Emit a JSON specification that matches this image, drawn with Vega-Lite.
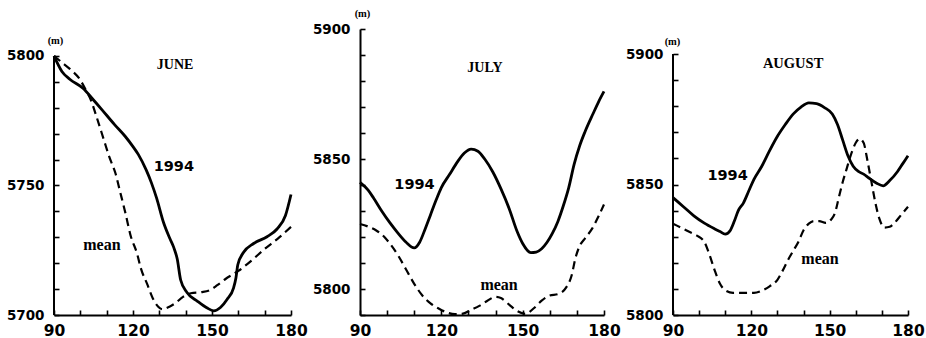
{
  "$schema": "https://vega.github.io/schema/vega-lite/v6.json",
  "background": "white",
  "padding": {"left": 6, "top": 8, "right": 5, "bottom": 2},
  "bounds": "flush",
  "spacing": 69,
  "config": {
    "view": {"stroke": null},
    "axis": {"grid": false, "domainColor": "black", "domainWidth": 2, "tickColor": "black", "tickWidth": 1.6, "labelColor": "black", "labelFont": "DejaVu Sans", "labelFontWeight": "bold", "titleColor": "black", "labelOverlap": false, "labelFlush": false, "labelBound": false},
    "axisX": {"labelFontSize": 15.5},
    "axisY": {"labelFontSize": 13.5, "titleFont": "Liberation Serif", "titleFontSize": 10.5, "titleFontWeight": "bold", "titleAngle": 0, "titleAlign": "center", "titleBaseline": "middle"}
  },
  "datasets": {
    "june": [
      {"lon": 90, "z": 5800, "series": "1994"}, {"lon": 93, "z": 5794, "series": "1994"}, {"lon": 96, "z": 5791, "series": "1994"}, {"lon": 101, "z": 5787.5, "series": "1994"}, {"lon": 105, "z": 5783, "series": "1994"}, {"lon": 108, "z": 5779.5, "series": "1994"}, {"lon": 113, "z": 5773.5, "series": "1994"}, {"lon": 117, "z": 5769, "series": "1994"}, {"lon": 120, "z": 5765, "series": "1994"}, {"lon": 122, "z": 5762, "series": "1994"}, {"lon": 125, "z": 5756, "series": "1994"}, {"lon": 127, "z": 5751, "series": "1994"}, {"lon": 129, "z": 5745, "series": "1994"}, {"lon": 131.5, "z": 5736, "series": "1994"}, {"lon": 134, "z": 5729.5, "series": "1994"}, {"lon": 135.5, "z": 5726, "series": "1994"}, {"lon": 136.8, "z": 5721.6, "series": "1994"}, {"lon": 138.1, "z": 5713.5, "series": "1994"}, {"lon": 140.5, "z": 5708.7, "series": "1994"}, {"lon": 144.5, "z": 5705.3, "series": "1994"}, {"lon": 148, "z": 5702.8, "series": "1994"}, {"lon": 150.7, "z": 5701.6, "series": "1994"}, {"lon": 153.2, "z": 5702.9, "series": "1994"}, {"lon": 155.7, "z": 5706, "series": "1994"}, {"lon": 158.2, "z": 5710.5, "series": "1994"}, {"lon": 159.1, "z": 5714.4, "series": "1994"}, {"lon": 159.8, "z": 5719.4, "series": "1994"}, {"lon": 162, "z": 5724.2, "series": "1994"}, {"lon": 165.8, "z": 5727.6, "series": "1994"}, {"lon": 170.9, "z": 5730.2, "series": "1994"}, {"lon": 174.7, "z": 5733.2, "series": "1994"}, {"lon": 177.9, "z": 5738.4, "series": "1994"}, {"lon": 180, "z": 5746.5, "series": "1994"},
      {"lon": 90, "z": 5800, "series": "mean"}, {"lon": 93, "z": 5797.5, "series": "mean"}, {"lon": 96, "z": 5795, "series": "mean"}, {"lon": 100, "z": 5790.7, "series": "mean"}, {"lon": 102, "z": 5787, "series": "mean"}, {"lon": 104, "z": 5783, "series": "mean"}, {"lon": 106, "z": 5777, "series": "mean"}, {"lon": 109, "z": 5767.4, "series": "mean"}, {"lon": 111, "z": 5761, "series": "mean"}, {"lon": 113.4, "z": 5754.5, "series": "mean"}, {"lon": 115, "z": 5748, "series": "mean"}, {"lon": 117.2, "z": 5739, "series": "mean"}, {"lon": 119, "z": 5731, "series": "mean"}, {"lon": 121.6, "z": 5723.5, "series": "mean"}, {"lon": 123, "z": 5718, "series": "mean"}, {"lon": 125.4, "z": 5711.9, "series": "mean"}, {"lon": 127.5, "z": 5706.5, "series": "mean"}, {"lon": 129.5, "z": 5703.3, "series": "mean"}, {"lon": 131.2, "z": 5702.2, "series": "mean"}, {"lon": 133, "z": 5702.8, "series": "mean"}, {"lon": 136, "z": 5704.5, "series": "mean"}, {"lon": 139, "z": 5707, "series": "mean"}, {"lon": 142, "z": 5708.4, "series": "mean"}, {"lon": 146, "z": 5708.8, "series": "mean"}, {"lon": 149, "z": 5709.5, "series": "mean"}, {"lon": 152, "z": 5711.5, "series": "mean"}, {"lon": 155, "z": 5713.8, "series": "mean"}, {"lon": 160, "z": 5717, "series": "mean"}, {"lon": 165, "z": 5721, "series": "mean"}, {"lon": 170, "z": 5725.5, "series": "mean"}, {"lon": 175, "z": 5729.5, "series": "mean"}, {"lon": 180, "z": 5734, "series": "mean"}
    ],
    "july": [
      {"lon": 90, "z": 5841, "series": "1994"}, {"lon": 93, "z": 5838, "series": "1994"}, {"lon": 95, "z": 5835, "series": "1994"}, {"lon": 98, "z": 5830, "series": "1994"}, {"lon": 101, "z": 5825.5, "series": "1994"}, {"lon": 104, "z": 5821.5, "series": "1994"}, {"lon": 107, "z": 5818, "series": "1994"}, {"lon": 110, "z": 5815.8, "series": "1994"}, {"lon": 112, "z": 5818, "series": "1994"}, {"lon": 114, "z": 5823, "series": "1994"}, {"lon": 116, "z": 5828.5, "series": "1994"}, {"lon": 118, "z": 5834, "series": "1994"}, {"lon": 120, "z": 5839, "series": "1994"}, {"lon": 123, "z": 5844, "series": "1994"}, {"lon": 126, "z": 5849, "series": "1994"}, {"lon": 128.5, "z": 5852.3, "series": "1994"}, {"lon": 131, "z": 5853.8, "series": "1994"}, {"lon": 133.5, "z": 5853, "series": "1994"}, {"lon": 136, "z": 5850, "series": "1994"}, {"lon": 139, "z": 5845, "series": "1994"}, {"lon": 142, "z": 5838.5, "series": "1994"}, {"lon": 145, "z": 5831, "series": "1994"}, {"lon": 148, "z": 5822, "series": "1994"}, {"lon": 150, "z": 5817.5, "series": "1994"}, {"lon": 153, "z": 5814, "series": "1994"}, {"lon": 155, "z": 5814.2, "series": "1994"}, {"lon": 157, "z": 5815.5, "series": "1994"}, {"lon": 159, "z": 5818, "series": "1994"}, {"lon": 161, "z": 5821.5, "series": "1994"}, {"lon": 163, "z": 5826, "series": "1994"}, {"lon": 165, "z": 5832, "series": "1994"}, {"lon": 167, "z": 5839, "series": "1994"}, {"lon": 169, "z": 5848, "series": "1994"}, {"lon": 171, "z": 5855, "series": "1994"}, {"lon": 173, "z": 5860.5, "series": "1994"}, {"lon": 176, "z": 5867.5, "series": "1994"}, {"lon": 178, "z": 5872, "series": "1994"}, {"lon": 180, "z": 5876, "series": "1994"},
      {"lon": 90, "z": 5825, "series": "mean"}, {"lon": 93, "z": 5824, "series": "mean"}, {"lon": 96, "z": 5822.5, "series": "mean"}, {"lon": 99, "z": 5820, "series": "mean"}, {"lon": 101, "z": 5817.5, "series": "mean"}, {"lon": 104, "z": 5813, "series": "mean"}, {"lon": 107, "z": 5807.5, "series": "mean"}, {"lon": 110, "z": 5802, "series": "mean"}, {"lon": 113, "z": 5797.5, "series": "mean"}, {"lon": 116, "z": 5794.5, "series": "mean"}, {"lon": 119, "z": 5792.5, "series": "mean"}, {"lon": 122, "z": 5791, "series": "mean"}, {"lon": 125, "z": 5790.3, "series": "mean"}, {"lon": 128, "z": 5790.5, "series": "mean"}, {"lon": 131, "z": 5792, "series": "mean"}, {"lon": 134, "z": 5793.5, "series": "mean"}, {"lon": 137, "z": 5795.5, "series": "mean"}, {"lon": 140, "z": 5797, "series": "mean"}, {"lon": 142, "z": 5796.5, "series": "mean"}, {"lon": 145, "z": 5794, "series": "mean"}, {"lon": 148, "z": 5791.5, "series": "mean"}, {"lon": 151, "z": 5790.4, "series": "mean"}, {"lon": 154, "z": 5792.5, "series": "mean"}, {"lon": 157, "z": 5795.5, "series": "mean"}, {"lon": 160, "z": 5797.5, "series": "mean"}, {"lon": 163, "z": 5798, "series": "mean"}, {"lon": 166, "z": 5800.5, "series": "mean"}, {"lon": 168, "z": 5805, "series": "mean"}, {"lon": 169.5, "z": 5812, "series": "mean"}, {"lon": 171, "z": 5816.5, "series": "mean"}, {"lon": 173, "z": 5819.5, "series": "mean"}, {"lon": 175.5, "z": 5823, "series": "mean"}, {"lon": 178, "z": 5828, "series": "mean"}, {"lon": 180, "z": 5832.5, "series": "mean"}
    ],
    "august": [
      {"lon": 90, "z": 5845, "series": "1994"}, {"lon": 94, "z": 5841.5, "series": "1994"}, {"lon": 98, "z": 5838, "series": "1994"}, {"lon": 102, "z": 5835.2, "series": "1994"}, {"lon": 106, "z": 5833, "series": "1994"}, {"lon": 108, "z": 5832, "series": "1994"}, {"lon": 110, "z": 5831, "series": "1994"}, {"lon": 112, "z": 5832.5, "series": "1994"}, {"lon": 113.5, "z": 5836, "series": "1994"}, {"lon": 115, "z": 5840, "series": "1994"}, {"lon": 117, "z": 5843, "series": "1994"}, {"lon": 119, "z": 5847.5, "series": "1994"}, {"lon": 121, "z": 5852, "series": "1994"}, {"lon": 124, "z": 5857, "series": "1994"}, {"lon": 127, "z": 5863, "series": "1994"}, {"lon": 130, "z": 5868.5, "series": "1994"}, {"lon": 133, "z": 5873, "series": "1994"}, {"lon": 136, "z": 5877, "series": "1994"}, {"lon": 139, "z": 5879.7, "series": "1994"}, {"lon": 142, "z": 5881.3, "series": "1994"}, {"lon": 145, "z": 5881, "series": "1994"}, {"lon": 148, "z": 5879.5, "series": "1994"}, {"lon": 151, "z": 5877, "series": "1994"}, {"lon": 153, "z": 5873, "series": "1994"}, {"lon": 155, "z": 5867, "series": "1994"}, {"lon": 157, "z": 5861, "series": "1994"}, {"lon": 159, "z": 5857, "series": "1994"}, {"lon": 161, "z": 5855, "series": "1994"}, {"lon": 163, "z": 5854, "series": "1994"}, {"lon": 165, "z": 5852.5, "series": "1994"}, {"lon": 168, "z": 5850.5, "series": "1994"}, {"lon": 170.5, "z": 5849.5, "series": "1994"}, {"lon": 173, "z": 5851.5, "series": "1994"}, {"lon": 176, "z": 5855, "series": "1994"}, {"lon": 178, "z": 5858, "series": "1994"}, {"lon": 180, "z": 5861, "series": "1994"},
      {"lon": 90, "z": 5835, "series": "mean"}, {"lon": 93, "z": 5833.5, "series": "mean"}, {"lon": 96, "z": 5832, "series": "mean"}, {"lon": 99, "z": 5830.5, "series": "mean"}, {"lon": 102, "z": 5828, "series": "mean"}, {"lon": 104, "z": 5823, "series": "mean"}, {"lon": 106, "z": 5817, "series": "mean"}, {"lon": 108, "z": 5812, "series": "mean"}, {"lon": 110, "z": 5809.5, "series": "mean"}, {"lon": 113, "z": 5808.5, "series": "mean"}, {"lon": 117, "z": 5808.5, "series": "mean"}, {"lon": 121, "z": 5808.5, "series": "mean"}, {"lon": 124, "z": 5809.3, "series": "mean"}, {"lon": 127, "z": 5811, "series": "mean"}, {"lon": 130, "z": 5813.5, "series": "mean"}, {"lon": 132, "z": 5817, "series": "mean"}, {"lon": 134, "z": 5821, "series": "mean"}, {"lon": 136, "z": 5824.5, "series": "mean"}, {"lon": 138, "z": 5828, "series": "mean"}, {"lon": 140, "z": 5832.5, "series": "mean"}, {"lon": 142, "z": 5835, "series": "mean"}, {"lon": 144, "z": 5836, "series": "mean"}, {"lon": 146, "z": 5836, "series": "mean"}, {"lon": 148.5, "z": 5835.3, "series": "mean"}, {"lon": 150.5, "z": 5836.5, "series": "mean"}, {"lon": 152, "z": 5839, "series": "mean"}, {"lon": 153.5, "z": 5845, "series": "mean"}, {"lon": 155, "z": 5851, "series": "mean"}, {"lon": 156.5, "z": 5856, "series": "mean"}, {"lon": 158, "z": 5861, "series": "mean"}, {"lon": 160, "z": 5866, "series": "mean"}, {"lon": 161.5, "z": 5867.5, "series": "mean"}, {"lon": 163, "z": 5866, "series": "mean"}, {"lon": 164.5, "z": 5859, "series": "mean"}, {"lon": 166, "z": 5851, "series": "mean"}, {"lon": 167.5, "z": 5843, "series": "mean"}, {"lon": 169, "z": 5837, "series": "mean"}, {"lon": 171, "z": 5833.5, "series": "mean"}, {"lon": 173, "z": 5833.8, "series": "mean"}, {"lon": 175, "z": 5835.5, "series": "mean"}, {"lon": 177.5, "z": 5838.5, "series": "mean"}, {"lon": 180, "z": 5841.5, "series": "mean"}
    ]
  },
  "hconcat": [
    {
      "width": 237, "height": 286,
      "data": {"name": "june"},
      "resolve": {"axis": {"x": "independent", "y": "independent"}},
      "layer": [
        {"transform": [{"filter": "datum.series === '1994'"}], "mark": {"type": "line", "interpolate": "monotone", "color": "black", "strokeWidth": 2.8},
         "encoding": {
          "x": {"field": "lon", "type": "quantitative", "scale": {"domain": [90, 180], "nice": false, "zero": false}, "axis": {"orient": "bottom", "title": null, "values": [90, 120, 150, 180], "ticks": false, "tickSize": 0, "labelPadding": 8}},
          "y": {"field": "z", "type": "quantitative", "scale": {"domain": [5700, 5810.4], "nice": false, "zero": false}, "axis": {"orient": "left", "title": "(m)", "titleX": 1, "titleY": 11, "domain": false, "format": "d", "values": [5700, 5750, 5800], "ticks": false, "tickSize": 0, "labelPadding": 10}}
         }},
        {"transform": [{"filter": "datum.series === 'mean'"}], "mark": {"type": "line", "interpolate": "monotone", "color": "black", "strokeWidth": 2.2, "strokeDash": [8, 5]},
         "encoding": {
          "x": {"field": "lon", "type": "quantitative", "axis": {"orient": "top", "offset": -286, "title": null, "labels": false, "domain": false, "ticks": true, "tickSize": 5, "values": [90, 100, 110, 120, 130, 140, 150, 160, 170, 180]}},
          "y": {"field": "z", "type": "quantitative", "axis": {"orient": "right", "offset": -237, "title": null, "labels": false, "domain": false, "ticks": true, "tickSize": 5, "values": [5700, 5710, 5720, 5730, 5740, 5750, 5760, 5770, 5780, 5790, 5800]}}
         }},
        {"transform": [{"filter": "datum.series === 'mean' && datum.lon === 90"}], "mark": {"type": "rule", "color": "black", "strokeWidth": 2}, "encoding": {"x": {"datum": 90, "axis": null}, "y": {"datum": 5700, "axis": null}, "y2": {"datum": 5800}}},
        {"transform": [{"filter": "datum.series === 'mean' && datum.lon === 90"}], "mark": {"type": "text", "font": "Liberation Serif", "fontWeight": "bold", "fontSize": 14, "color": "black", "text": "JUNE"}, "encoding": {"x": {"datum": 136, "axis": null}, "y": {"datum": 5796.5, "axis": null}}},
        {"transform": [{"filter": "datum.series === 'mean' && datum.lon === 90"}], "mark": {"type": "text", "font": "DejaVu Sans", "fontWeight": "bold", "fontSize": 14.5, "color": "black", "text": "1994"}, "encoding": {"x": {"datum": 135.5, "axis": null}, "y": {"datum": 5757, "axis": null}}},
        {"transform": [{"filter": "datum.series === 'mean' && datum.lon === 90"}], "mark": {"type": "text", "font": "Liberation Serif", "fontWeight": "bold", "fontSize": 16, "color": "black", "text": "mean"}, "encoding": {"x": {"datum": 108.2, "axis": null}, "y": {"datum": 5727, "axis": null}}}
      ]
    },
    {
      "width": 244, "height": 286,
      "data": {"name": "july"},
      "resolve": {"axis": {"x": "independent", "y": "independent"}},
      "layer": [
        {"transform": [{"filter": "datum.series === '1994'"}], "mark": {"type": "line", "interpolate": "monotone", "color": "black", "strokeWidth": 2.8},
         "encoding": {
          "x": {"field": "lon", "type": "quantitative", "scale": {"domain": [90, 180], "nice": false, "zero": false}, "axis": {"orient": "bottom", "title": null, "values": [90, 120, 150, 180], "ticks": false, "tickSize": 0, "labelPadding": 8}},
          "y": {"field": "z", "type": "quantitative", "scale": {"domain": [5790, 5900], "nice": false, "zero": false}, "axis": {"orient": "left", "title": "(m)", "titleX": 2, "titleY": -15.5, "format": "d", "values": [5800, 5850, 5900], "ticks": false, "tickSize": 0, "labelPadding": 10}}
         }},
        {"transform": [{"filter": "datum.series === 'mean'"}], "mark": {"type": "line", "interpolate": "monotone", "color": "black", "strokeWidth": 2.2, "strokeDash": [8, 5]},
         "encoding": {
          "x": {"field": "lon", "type": "quantitative", "axis": {"orient": "top", "offset": -286, "title": null, "labels": false, "domain": false, "ticks": true, "tickSize": 5, "values": [90, 100, 110, 120, 130, 140, 150, 160, 170, 180]}},
          "y": {"field": "z", "type": "quantitative", "axis": {"orient": "right", "offset": -244, "title": null, "labels": false, "domain": false, "ticks": true, "tickSize": 5, "values": [5790, 5800, 5810, 5820, 5830, 5840, 5850, 5860, 5870, 5880, 5890, 5900]}}
         }},
        {"transform": [{"filter": "datum.series === 'mean' && datum.lon === 90"}], "mark": {"type": "text", "font": "Liberation Serif", "fontWeight": "bold", "fontSize": 14, "color": "black", "text": "JULY"}, "encoding": {"x": {"datum": 136.1, "axis": null}, "y": {"datum": 5885, "axis": null}}},
        {"transform": [{"filter": "datum.series === 'mean' && datum.lon === 90"}], "mark": {"type": "text", "font": "DejaVu Sans", "fontWeight": "bold", "fontSize": 14.5, "color": "black", "text": "1994"}, "encoding": {"x": {"datum": 110.1, "axis": null}, "y": {"datum": 5840, "axis": null}}},
        {"transform": [{"filter": "datum.series === 'mean' && datum.lon === 90"}], "mark": {"type": "text", "font": "Liberation Serif", "fontWeight": "bold", "fontSize": 16, "color": "black", "text": "mean"}, "encoding": {"x": {"datum": 141.3, "axis": null}, "y": {"datum": 5801.5, "axis": null}}}
      ]
    },
    {
      "width": 235, "height": 286,
      "data": {"name": "august"},
      "resolve": {"axis": {"x": "independent", "y": "independent"}},
      "layer": [
        {"transform": [{"filter": "datum.series === '1994'"}], "mark": {"type": "line", "interpolate": "monotone", "color": "black", "strokeWidth": 2.8},
         "encoding": {
          "x": {"field": "lon", "type": "quantitative", "scale": {"domain": [90, 180], "nice": false, "zero": false}, "axis": {"orient": "bottom", "title": null, "values": [90, 120, 150, 180], "ticks": false, "tickSize": 0, "labelPadding": 8}},
          "y": {"field": "z", "type": "quantitative", "scale": {"domain": [5800, 5909.6], "nice": false, "zero": false}, "axis": {"orient": "left", "title": "(m)", "titleX": -1, "titleY": 12, "domain": false, "format": "d", "values": [5800, 5850, 5900], "ticks": false, "tickSize": 0, "labelPadding": 10}}
         }},
        {"transform": [{"filter": "datum.series === 'mean'"}], "mark": {"type": "line", "interpolate": "monotone", "color": "black", "strokeWidth": 2.2, "strokeDash": [8, 5]},
         "encoding": {
          "x": {"field": "lon", "type": "quantitative", "axis": {"orient": "top", "offset": -286, "title": null, "labels": false, "domain": false, "ticks": true, "tickSize": 5, "values": [90, 100, 110, 120, 130, 140, 150, 160, 170, 180]}},
          "y": {"field": "z", "type": "quantitative", "axis": {"orient": "right", "offset": -235, "title": null, "labels": false, "domain": false, "ticks": true, "tickSize": 5, "values": [5800, 5810, 5820, 5830, 5840, 5850, 5860, 5870, 5880, 5890, 5900]}}
         }},
        {"transform": [{"filter": "datum.series === 'mean' && datum.lon === 90"}], "mark": {"type": "rule", "color": "black", "strokeWidth": 2}, "encoding": {"x": {"datum": 90, "axis": null}, "y": {"datum": 5800, "axis": null}, "y2": {"datum": 5900}}},
        {"transform": [{"filter": "datum.series === 'mean' && datum.lon === 90"}], "mark": {"type": "text", "font": "Liberation Serif", "fontWeight": "bold", "fontSize": 14.5, "color": "black", "text": "AUGUST"}, "encoding": {"x": {"datum": 136, "axis": null}, "y": {"datum": 5896, "axis": null}}},
        {"transform": [{"filter": "datum.series === 'mean' && datum.lon === 90"}], "mark": {"type": "text", "font": "DejaVu Sans", "fontWeight": "bold", "fontSize": 14.5, "color": "black", "text": "1994"}, "encoding": {"x": {"datum": 110.9, "axis": null}, "y": {"datum": 5853.3, "axis": null}}},
        {"transform": [{"filter": "datum.series === 'mean' && datum.lon === 90"}], "mark": {"type": "text", "font": "Liberation Serif", "fontWeight": "bold", "fontSize": 16, "color": "black", "text": "mean"}, "encoding": {"x": {"datum": 146.3, "axis": null}, "y": {"datum": 5821.5, "axis": null}}}
      ]
    }
  ]
}
